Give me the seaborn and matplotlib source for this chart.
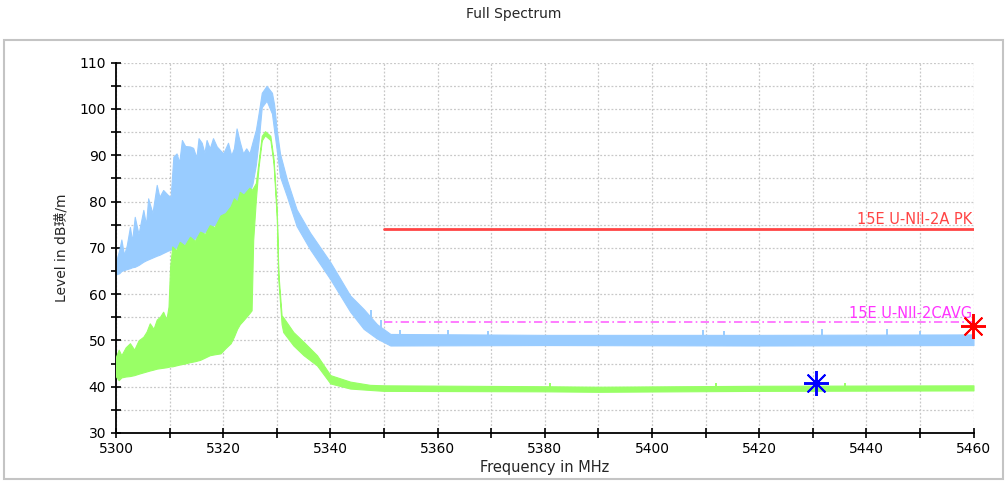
import numpy as np
import pandas as pd
import seaborn as sns
import matplotlib.pyplot as plt
from matplotlib.ticker import MultipleLocator
from matplotlib.patches import Rectangle

# peak trace (blue): lower / upper edge of the noise band
pk_freq = [5300.0, 5300.6, 5301.0, 5301.5, 5302.0, 5302.6, 5303.0, 5303.5, 5304.2, 5305.1,
           5305.6, 5306.0, 5306.8, 5307.6, 5308.1, 5308.8, 5309.7, 5310.2, 5310.7, 5311.3,
           5311.8, 5312.3, 5312.9, 5313.8, 5314.4, 5315.0, 5315.4, 5316.0, 5316.5, 5316.9,
           5317.5, 5318.1, 5318.8, 5320.0, 5320.9, 5321.5, 5322.0, 5322.5, 5323.1, 5323.7,
           5324.3, 5324.9, 5325.5, 5326.1, 5326.6, 5327.2, 5328.1, 5329.1, 5329.5, 5330.0,
           5330.6, 5331.9, 5333.7, 5336.2, 5340.0, 5343.7, 5346.2, 5348.7, 5351.2, 5380.0,
           5420.0, 5460.0]
pk_low = [64.3, 64.5, 65.0, 65.2, 65.4, 65.6, 65.8, 65.9, 66.3, 67.0,
          67.3, 67.5, 67.9, 68.3, 68.5, 68.9, 69.4, 69.6, 69.8, 70.1,
          70.3, 70.6, 70.9, 71.4, 71.7, 72.3, 72.6, 73.0, 73.4, 73.7,
          74.2, 74.8, 75.4, 76.5, 77.3, 77.8, 78.3, 78.8, 79.4, 80.0,
          80.8, 81.8, 84.0, 88.0, 93.0, 100.4, 101.8, 99.0, 95.4, 91.1,
          85.4, 81.1, 74.7, 69.7, 63.2, 56.2, 52.5, 50.4, 48.9, 49.0,
          48.9, 49.0]
pk_high = [67.0, 69.5, 71.8, 68.5, 70.5, 74.5, 71.5, 76.7, 73.0, 78.2,
           75.0, 80.7, 77.5, 83.6, 81.0, 82.5, 81.4, 81.0, 89.7, 90.4,
           88.5, 93.3, 92.0, 91.9, 91.6, 89.5, 93.7, 92.7, 90.5, 93.3,
           91.5, 93.7, 91.9, 90.4, 92.7, 90.0, 91.5, 95.8, 92.9, 90.4,
           91.5, 90.4, 93.0, 95.5, 99.0, 103.5, 105.0, 103.5, 101.0, 95.4,
           90.4, 84.7, 78.3, 73.3, 66.9, 59.7, 56.8, 53.5, 51.4, 51.2,
           51.2, 51.3]
pk_spike_freq = [5347.5, 5349.5, 5353.0, 5362.0, 5369.5, 5409.6, 5413.4, 5431.8, 5443.9, 5450.0]
pk_spike_top = [56.5, 54.5, 52.2, 52.2, 52.0, 52.2, 52.0, 52.4, 52.4, 52.0]

# average trace (green)
av_freq = [5300.0, 5300.5, 5301.0, 5301.8, 5302.6, 5303.4, 5304.2, 5305.1, 5305.7, 5306.3,
           5307.0, 5307.6, 5308.2, 5308.8, 5309.4, 5309.8, 5310.1, 5310.5, 5311.2, 5311.9,
           5312.8, 5313.8, 5314.7, 5315.7, 5316.6, 5317.5, 5318.4, 5319.5, 5320.4, 5321.4,
           5322.0, 5322.6, 5323.1, 5323.8, 5324.9, 5325.3, 5325.6, 5326.1, 5326.6, 5327.2,
           5327.8, 5328.8, 5329.4, 5330.0, 5330.3, 5330.9, 5331.2, 5333.1, 5335.0, 5337.5,
           5340.0, 5343.7, 5347.4, 5350.0, 5380.0, 5390.0, 5420.0, 5460.0]
av_low = [42.2, 41.4, 42.0, 42.2, 42.3, 42.5, 42.8, 43.1, 43.3, 43.5,
          43.7, 43.9, 44.0, 44.1, 44.2, 44.3, 44.4, 44.4, 44.6, 44.8,
          45.0, 45.3, 45.5, 45.8, 46.3, 46.8, 47.0, 47.2, 48.3, 49.4,
          50.8, 52.5, 53.5, 54.4, 55.9, 56.5, 71.7, 80.5, 87.5, 93.2,
          94.3, 93.3, 88.2, 76.5, 63.0, 53.5, 51.8, 48.9, 46.8, 44.6,
          40.7, 39.6, 39.3, 39.1, 39.0, 38.9, 39.1, 39.2]
av_high = [46.5, 48.0, 46.8, 48.5, 49.4, 48.0, 50.0, 50.8, 51.9, 53.7,
           52.5, 54.5, 55.1, 56.2, 54.5, 57.3, 66.0, 70.3, 69.5, 71.3,
           70.5, 72.4, 71.5, 73.5, 73.0, 74.9, 74.5, 77.0, 77.5, 79.0,
           80.7, 80.0, 82.1, 81.5, 83.0, 82.5, 83.0, 84.0, 88.6, 94.2,
           95.2, 94.2, 89.2, 78.0, 64.5, 55.4, 55.0, 51.8, 49.7, 46.8,
           42.5, 41.1, 40.4, 40.3, 40.1, 40.0, 40.2, 40.3]
av_spike_freq = [5381.0, 5412.0, 5436.0]
av_spike_top = [40.9, 40.8, 40.8]

# limit lines
limit_names = ["15E U-NII-2A PK", "15E U-NII-2CAVG"]
limit_levels = [74, 54]
limit_start, limit_stop = 5350, 5460

# markers
marker_freq = [5430.7, 5459.9]
marker_level = [40.9, 53.1]

x_ticks = list(range(5300, 5461, 20))
y_ticks = list(range(30, 111, 10))

sns.set_theme(style="white")
plt.rcParams['font.family'] = ['DejaVu Sans', 'Noto Sans CJK SC']

BLUE = "#99ccff"
GREEN = "#99ff66"

fig = plt.figure(figsize=(10.08, 4.83), dpi=100)
fig.patches.append(Rectangle((4 / 1008, 1 - 479 / 483), 999 / 1008, 439 / 483,
                             transform=fig.transFigure, fill=False,
                             edgecolor="#c4c4c4", linewidth=1.5))
ax = fig.add_axes([116 / 1008, 1 - 433 / 483, 857.5 / 1008, 370.3 / 483])

pk = pd.DataFrame({"freq": pk_freq, "low": pk_low, "high": pk_high})
av = pd.DataFrame({"freq": av_freq, "low": av_low, "high": av_high})

ax.fill_between(pk["freq"], pk["low"], pk["high"], color=BLUE, lw=0.8, zorder=2)
ax.vlines(pk_spike_freq, np.interp(pk_spike_freq, pk_freq, pk_high) - 1, pk_spike_top,
          color=BLUE, lw=1.4, zorder=2)
ax.fill_between(av["freq"], av["low"], av["high"], color=GREEN, lw=0.8, zorder=3)
ax.vlines(av_spike_freq, np.interp(av_spike_freq, av_freq, av_high) - 1, av_spike_top,
          color=GREEN, lw=1.4, zorder=3)

lim = pd.DataFrame({"freq": [limit_start, limit_stop] * 2,
                    "level": [limit_levels[0]] * 2 + [limit_levels[1]] * 2,
                    "name": [limit_names[0]] * 2 + [limit_names[1]] * 2})
sns.lineplot(data=lim[lim["name"] == limit_names[0]], x="freq", y="level", color="#ff4444",
             lw=2, ax=ax, zorder=4)
sns.lineplot(data=lim[lim["name"] == limit_names[1]], x="freq", y="level", color="#ff66ff",
             lw=1.2, ls=(0, (5, 2, 1, 2)), ax=ax, zorder=4)
ax.text(limit_stop - 0.3, limit_levels[0] + 0.6, limit_names[0], color="#ff4444",
        fontsize=10.5, ha="right", va="bottom", zorder=5)
ax.text(limit_stop - 0.3, limit_levels[1] + 0.2, limit_names[1], color="#ff33ff",
        fontsize=10.5, ha="right", va="bottom", zorder=5)

ax.plot(marker_freq[0], marker_level[0], marker=(8, 2, 0), ms=18, mew=1.4,
        color="#0000ff", zorder=6, clip_on=False)
ax.plot(marker_freq[1], marker_level[1], marker=(8, 2, 0), ms=18, mew=1.4,
        color="#ff0000", zorder=6, clip_on=False)

ax.set_xlim(5300, 5460)
ax.set_ylim(30, 110)
ax.set_xticks(x_ticks)
ax.set_yticks(y_ticks)
ax.xaxis.set_minor_locator(MultipleLocator(10))
ax.yaxis.set_minor_locator(MultipleLocator(5))
ax.tick_params(which="both", direction="inout", length=7, width=1.2, color="black",
               labelsize=10, labelcolor="black", bottom=True, left=True)
ax.tick_params(axis="x", pad=3)
ax.grid(which="both", color="#c8c8c8", ls=(0, (1.5, 1.5)), lw=0.9)
ax.set_axisbelow(True)
for side in ["top", "right"]:
    ax.spines[side].set_visible(False)
for side in ["left", "bottom"]:
    ax.spines[side].set_color("black")
    ax.spines[side].set_linewidth(1.3)

ax.set_xlabel("Frequency in MHz", fontsize=10.5, labelpad=3)
ax.set_ylabel("Level in dB璜/m", fontsize=10, labelpad=8,
              family=['DejaVu Sans', 'Noto Sans CJK SC'])
fig.text(514 / 1008, 1 - 14 / 483, "Full Spectrum", fontsize=10, ha="center", va="center")

fig.savefig("out.png", dpi=100)
